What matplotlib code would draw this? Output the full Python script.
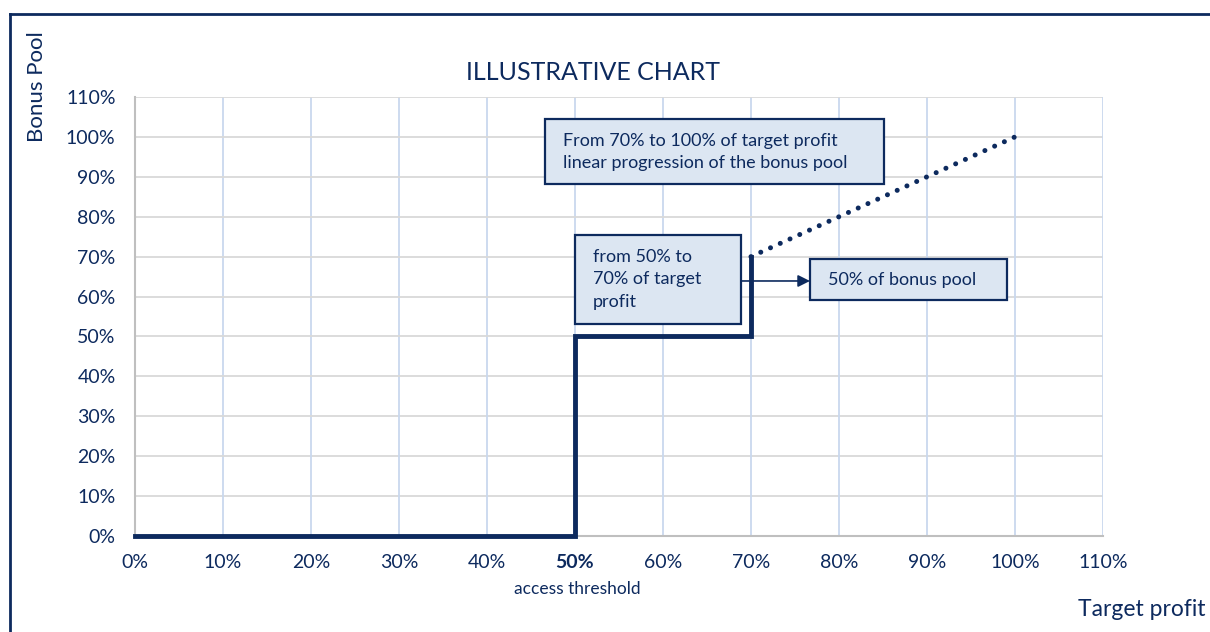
import matplotlib
matplotlib.use("Agg")
import matplotlib.pyplot as plt
from matplotlib.patches import Rectangle
from matplotlib.lines import Line2D

plt.rcParams['font.family'] = ['Lato', 'DejaVu Sans']

NAVY = '#0d2a5e'
BOXFILL = '#dce6f2'

# Data
step_x = [0, 50, 50, 70, 70]
step_y = [0, 0, 50, 50, 70]
linear_x = [70, 100]
linear_y = [70, 100]
ticks = list(range(0, 111, 10))
tick_labels = [f"{t}%" for t in ticks]

fig = plt.figure(figsize=(12.1, 6.32), dpi=100)
ax = fig.add_axes([135/1210, 1-536/632, (1103-135)/1210, (536-97)/632])

ax.set_xlim(0, 110)
ax.set_ylim(0, 110)
ax.set_xticks(ticks)
ax.set_yticks(ticks)
ax.set_xticklabels(tick_labels)
ax.set_yticklabels(tick_labels)
for lab in ax.get_xticklabels():
    if lab.get_text() == '50%':
        lab.set_fontweight('bold')
ax.tick_params(length=0, labelsize=14, colors=NAVY)
ax.tick_params(axis='x', pad=13)
ax.tick_params(axis='y', pad=14)

for t in ticks[1:]:
    ax.axhline(t, color='#d9d9d9', lw=1.3, zorder=0)
    ax.axvline(t, color='#c9d8ee', lw=1.3, zorder=0)
for side in ['top', 'right']:
    ax.spines[side].set_visible(False)
for side in ['left', 'bottom']:
    ax.spines[side].set_color('#bfbfbf')
    ax.spines[side].set_linewidth(1.5)

ax.plot(step_x, step_y, color=NAVY, lw=3.5, solid_joinstyle='miter', zorder=3, clip_on=False)
ax.plot(linear_x, linear_y, color=NAVY, lw=3.6, linestyle=(0, (0.01, 2.13)),
        dash_capstyle='round', zorder=3)

# annotation boxes
def box(x0, y0, x1, y1):
    ax.add_patch(Rectangle((x0, y0), x1-x0, y1-y0, facecolor=BOXFILL,
                           edgecolor=NAVY, lw=1.6, zorder=4))

box(46.6, 88.2, 85.1, 104.5)
ax.text(48.6, 96.2, "From 70% to 100% of target profit\nlinear progression of the bonus pool",
        ha='left', va='center', fontsize=13, color=NAVY, linespacing=1.5, zorder=5)

box(50.0, 53.1, 68.9, 75.4)
ax.text(52.0, 64.3, "from 50% to\n70% of target\nprofit",
        ha='left', va='center', fontsize=13, color=NAVY, linespacing=1.5, zorder=5)

box(76.7, 59.1, 99.1, 69.4)
ax.text(78.8, 64.2, "50% of bonus pool",
        ha='left', va='center', fontsize=13, color=NAVY, zorder=5)

ax.annotate("", xy=(76.7, 63.9), xytext=(68.9, 63.9),
            arrowprops=dict(arrowstyle='-|>', color=NAVY, lw=1.2, mutation_scale=18,
                            shrinkA=0, shrinkB=0), zorder=5)

# texts
fig.text(593/1210, 1-73/632, "ILLUSTRATIVE CHART", ha='center', va='center',
         fontsize=18, color=NAVY)
fig.text(37/1210, 1-87/632, "Bonus Pool", ha='center', va='center', rotation=90,
         fontsize=16, color=NAVY)
fig.text(1142/1210, 1-610/632, "Target profit", ha='center', va='center',
         fontsize=16.5, color=NAVY)
fig.text(577/1210, 1-589/632, "access threshold", ha='center', va='center',
         fontsize=12.5, color=NAVY)

# frame
fig.add_artist(Line2D([10/1210, 1], [1-14/632, 1-14/632], transform=fig.transFigure,
                      color=NAVY, lw=2))
fig.add_artist(Line2D([10/1210, 10/1210], [1-14/632, 0], transform=fig.transFigure,
                      color=NAVY, lw=2))

fig.savefig("out.png", dpi=100, facecolor='white')
